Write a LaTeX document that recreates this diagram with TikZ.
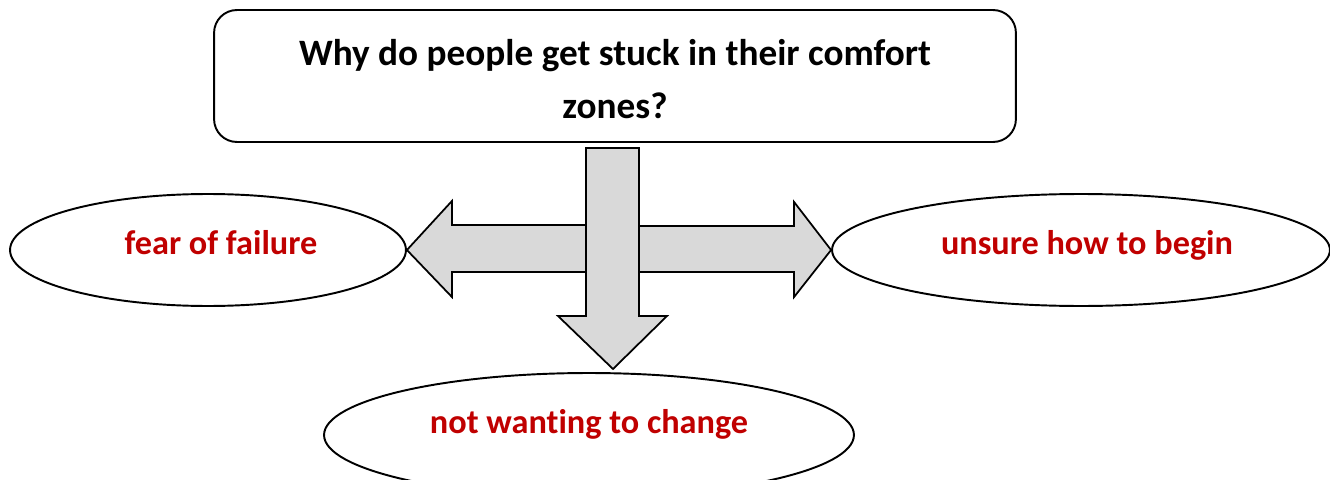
\documentclass[tikz,border=0pt]{standalone}
\usepackage{fontspec}
\setmainfont{Carlito}[Ligatures=NoCommon]
\usetikzlibrary{shapes.geometric}
\definecolor{causered}{HTML}{C00000}
\definecolor{arrowgrey}{HTML}{D9D9D9}

\begin{document}
\begin{tikzpicture}[x=0.02cm, y=-0.02cm,
    question/.style={draw, line width=1.1pt, rounded corners=13pt, inner sep=0pt,
        minimum width=16.04cm, minimum height=2.64cm},
    questiontext/.style={align=center, font=\bfseries\fontsize{21.2}{30.6}\selectfont},
    cause/.style={ellipse, draw, line width=1.1pt, inner sep=0pt},
    causetext/.style={text=causered, font=\bfseries\fontsize{19.5}{23}\selectfont},
    blockarrow/.style={draw, line width=1pt, fill=arrowgrey, line join=miter}]
    \useasboundingbox (0,0) rectangle (1330,480);

    \node[question] (question) at (615,76) {};
    \node[questiontext, yshift=-0.06cm] (questiontxt) at (question) {Why do people get stuck in their comfort\\zones?};

    \node[cause, minimum width=7.92cm, minimum height=2.24cm] (fear) at (208,250) {};
    \node[cause, minimum width=9.96cm, minimum height=2.24cm] (unsure) at (1081,250) {};
    \node[cause, minimum width=10.6cm, minimum height=2.48cm] (change) at (589,435) {};

    \node[causetext, xshift=0.26cm, yshift=0.14cm] (feartext) at (fear) {fear of failure};
    \node[causetext, xshift=0.12cm, yshift=0.1cm] (unsuretext) at (unsure) {unsure how to begin};
    \node[causetext, yshift=0.22cm] (changetext) at (change) {not wanting to change};

    % side arrows first, the down arrow sits on top of them
    \draw[blockarrow] (fear.east) -- ++(45,-49) -- ++(0,24) -- ++(136,0) -- ++(0,47)
        -- ++(-136,0) -- ++(0,25) -- cycle;
    \draw[blockarrow] (unsure.west) -- ++(-37,-48) -- ++(0,24) -- ++(-155,0) -- ++(0,46)
        -- ++(155,0) -- ++(0,25) -- cycle;
    \draw[blockarrow] (586,148) -- (639,148) -- (639,316) -- (667,316) -- (613,369)
        -- (558,316) -- (586,316) -- cycle;
\end{tikzpicture}
\end{document}
